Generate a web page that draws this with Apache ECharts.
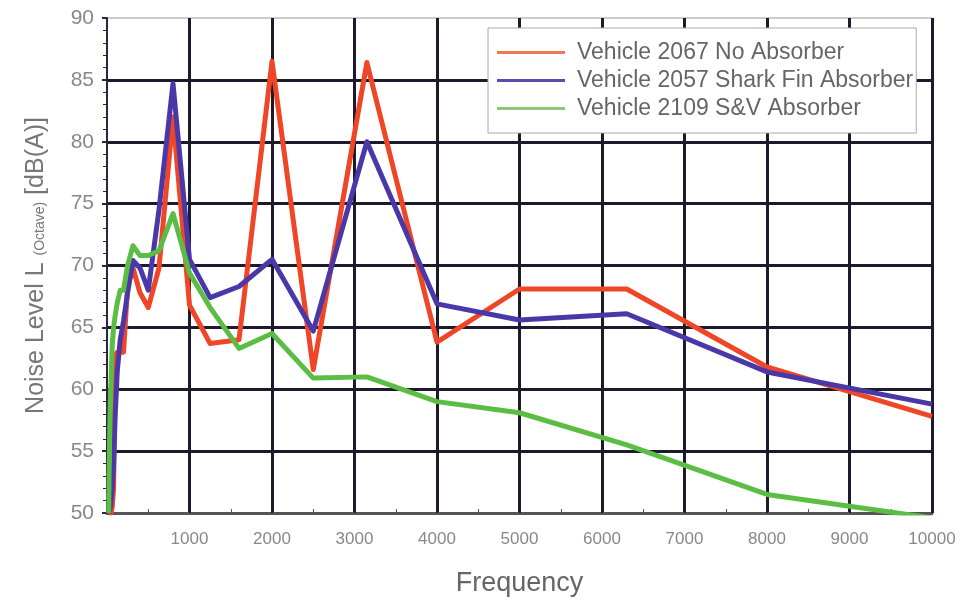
<!DOCTYPE html>
<html>
<head>
<meta charset="utf-8">
<script src="https://cdn.jsdelivr.net/npm/echarts@6/dist/echarts.min.js"></script>
<style>
html,body{margin:0;padding:0;background:#fff;}
#chart{width:962px;height:605px;}
</style>
</head>
<body>
<div id="chart"></div>
<script>
// 1/3-octave band centre frequencies (Hz)
const frequencies = [20, 25, 31.5, 40, 50, 63, 80, 100, 125, 160, 200, 250, 315, 400, 500, 630, 800, 1000, 1250, 1600, 2000, 2500, 3150, 4000, 5000, 6300, 8000, 10000];

const seriesNames = ['Vehicle 2067 No Absorber', 'Vehicle 2057 Shark Fin Absorber', 'Vehicle 2109 S&V Absorber'];

const noAbsorber = [50, 50, 50, 50, 50, 50.5, 52, 62.8, 63, 63, 63, 68.3, 69.8, 67.8, 66.6, 69.8, 82, 66.8, 63.7, 64, 86.5, 61.6, 86.4, 63.8, 68.1, 68.1, 61.8, 57.8];
const sharkFin   = [50, 50, 50, 50.5, 51, 52, 54, 58, 61.5, 64, 65.5, 67.8, 70.4, 69.8, 68, 74.5, 84.7, 70.5, 67.4, 68.3, 70.5, 64.7, 80, 66.9, 65.6, 66.1, 61.4, 58.8];
const svAbsorber = [50, 53, 56, 59, 61, 63.5, 65, 66, 67, 68, 68, 70, 71.6, 70.8, 70.8, 71.2, 74.2, 69.4, 66.6, 63.3, 64.5, 60.9, 61, 59, 58.1, 55.5, 51.5, 49.6];

const xTicks = {min: 0, max: 10000, interval: 1000};
const yTicks = {min: 50, max: 90, interval: 5};

const colors = ['#ee4626', '#4b38a8', '#5cbd45'];
const legendColors = ['#f07a50', '#5a4cae', '#8cc874'];

const pair = arr => frequencies.map((f, i) => [f, arr[i]]);

const chart = echarts.init(document.getElementById('chart'));
const gridColor = '#1c1a2c';
const labelFont = '"Liberation Sans", Arial, sans-serif';

chart.setOption({
  backgroundColor: '#fff',
  animation: false,
  color: colors,
  grid: {left: 107, right: 30, top: 18, bottom: 92, show: true, borderColor: '#999', borderWidth: 1},
  legend: {
    orient: 'vertical',
    left: 488, top: 28,
    backgroundColor: '#fff',
    borderColor: '#aaa', borderWidth: 1,
    padding: [13, 3, 13, 9],
    itemGap: 5,
    itemWidth: 68, itemHeight: 3,
    icon: 'rect',
    textStyle: {fontFamily: labelFont, fontSize: 23, color: '#666', padding: [0, 0, 0, 7]},
    data: seriesNames.map((n, i) => ({name: n, itemStyle: {color: legendColors[i]}}))
  },
  xAxis: {
    type: 'value',
    min: xTicks.min, max: xTicks.max, interval: xTicks.interval,
    name: 'Frequency', nameLocation: 'middle', nameGap: 57,
    nameTextStyle: {fontFamily: labelFont, fontSize: 27, color: '#666'},
    axisLine: {show: true, lineStyle: {color: '#555', width: 3}},
    axisTick: {show: true, inside: true, length: 6, lineStyle: {color: gridColor, width: 2}},
    minorTick: {show: true, splitNumber: 2, length: 4, lineStyle: {color: '#555', width: 1}},
    axisLabel: {fontFamily: labelFont, fontSize: 17, color: '#888', margin: 18, showMinLabel: false,
      formatter: v => v === 0 ? '' : String(v)},
    splitLine: {show: true, showMinLine: false, lineStyle: {color: gridColor, width: 3}}
  },
  yAxis: {
    type: 'value',
    min: yTicks.min, max: yTicks.max, interval: yTicks.interval,
    name: 'Noise Level L {s|(Octave)} [dB(A)]', nameLocation: 'middle', nameGap: 58,
    nameTextStyle: {fontFamily: labelFont, fontSize: 25, color: '#777',
      rich: {s: {fontFamily: labelFont, fontSize: 14, color: '#777', padding: [8, 0, 0, 0]}}},
    axisLine: {show: true, lineStyle: {color: '#2a2640', width: 2}},
    axisTick: {show: true, inside: false, length: 5, lineStyle: {color: '#2a2640', width: 2}},
    minorTick: {show: true, splitNumber: 5, length: 4, lineStyle: {color: '#2a2640', width: 1}},
    axisLabel: {fontFamily: labelFont, fontSize: 21, color: '#888', margin: 13},
    splitLine: {show: true, showMinLine: false, showMaxLine: false, lineStyle: {color: gridColor, width: 3}}
  },
  series: [
    {name: seriesNames[0], type: 'line', data: pair(noAbsorber), symbol: 'none', lineStyle: {width: 5, join: 'round'}, z: 3},
    {name: seriesNames[1], type: 'line', data: pair(sharkFin), symbol: 'none', lineStyle: {width: 5, join: 'round'}, z: 4},
    {name: seriesNames[2], type: 'line', data: pair(svAbsorber), symbol: 'none', lineStyle: {width: 5, join: 'round'}, z: 5}
  ]
});
</script>
</body>
</html>
